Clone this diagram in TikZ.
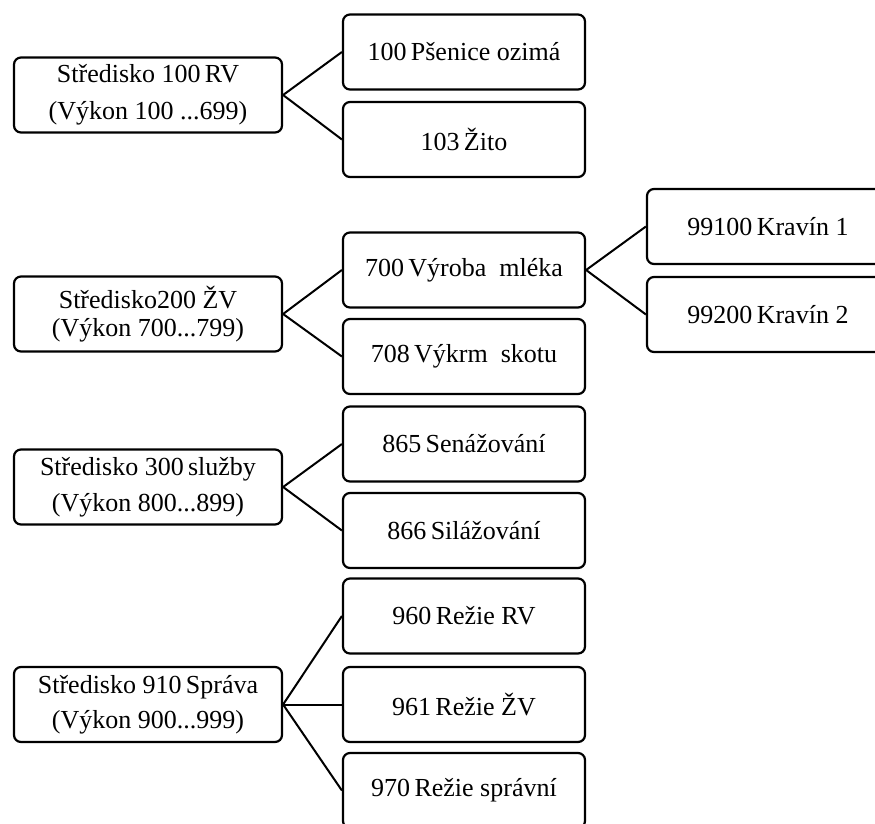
\documentclass[tikz,border=0pt]{standalone}
\usepackage{fontspec}
\setmainfont{Liberation Serif}
\usepackage{tikz}

\tikzset{
  box/.style={draw, line width=2.2pt, rounded corners=7pt, minimum height=75pt,
    inner sep=0pt, align=center, font=\fontsize{26}{37}\selectfont},
  stredisko/.style={box, minimum width=268pt},
  vykon/.style={box, minimum width=242pt},
  conn/.style={line width=2pt}
}

\begin{document}
\begin{tikzpicture}[x=1pt,y=-1pt]
\useasboundingbox (0,0) rectangle (875,823);
\clip (0,0) rectangle (875,823);
\node[stredisko] (s100) at (148,95) {Středisko 100\,RV\\(Výkon 100 ...699)};
\node[stredisko, font=\fontsize{26}{28}\selectfont] (s200) at (148,314) {Středisko200 ŽV\\(Výkon 700...799)};
\node[stredisko, font=\fontsize{26}{36}\selectfont] (s300) at (148,487) {Středisko 300\,služby\\(Výkon 800...899)};
\node[stredisko, font=\fontsize{26}{35}\selectfont] (s910) at (148,704.5) {Středisko 910\,Správa\\(Výkon 900...999)};
\node[vykon] (v100) at (464,52) {100\,Pšenice ozimá};
\node[vykon] (v103) at (464,139.5) {103\,Žito};
\node[vykon] (v700) at (464,270) {700\,Výroba \ mléka};
\node[vykon] (v708) at (464,356.5) {708\,Výkrm \ skotu};
\node[vykon] (v865) at (464,444) {865\,Senážování};
\node[vykon] (v866) at (464,530.5) {866\,Silážování};
\node[vykon] (v960) at (464,616) {960\,Režie RV};
\node[vykon] (v961) at (464,704.5) {961\,Režie ŽV};
\node[vykon] (v970) at (464,790.5) {970\,Režie správní};
\node[vykon] (k991) at (768,226.5) {99100\,Kravín 1};
\node[vykon] (k992) at (768,314.5) {99200\,Kravín 2};
\draw[conn] (s100.east) -- (v100.west);
\draw[conn] (s100.east) -- (v103.west);
\draw[conn] (s200.east) -- (v700.west);
\draw[conn] (s200.east) -- (v708.west);
\draw[conn] (s300.east) -- (v865.west);
\draw[conn] (s300.east) -- (v866.west);
\draw[conn] (s910.east) -- (v960.west);
\draw[conn] (s910.east) -- (v961.west);
\draw[conn] (s910.east) -- (v970.west);
\draw[conn] (v700.east) -- (k991.west);
\draw[conn] (v700.east) -- (k992.west);
\end{tikzpicture}
\end{document}
